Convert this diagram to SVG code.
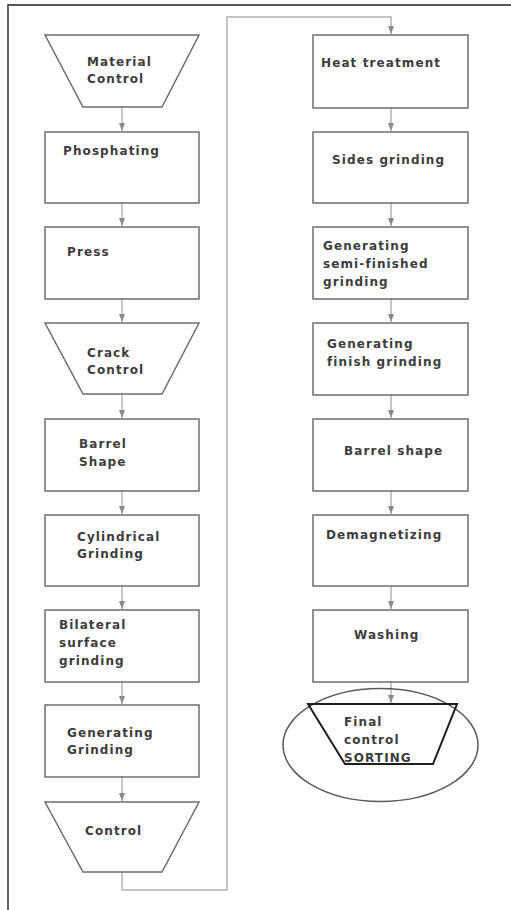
<svg xmlns="http://www.w3.org/2000/svg" width="511" height="910" viewBox="0 0 511 910">
<style>
.box{fill:#fff;stroke:#6e6e6e;stroke-width:1.5}
.t{font-family:"DejaVu Sans",sans-serif;font-weight:bold;font-size:12px;letter-spacing:1.1px;fill:#3c3c3c}
.c{fill:none;stroke:#b4b4b4;stroke-width:1.5}
</style>
<defs>
<marker id="ah" markerWidth="8" markerHeight="6" refX="8" refY="3" orient="auto" markerUnits="userSpaceOnUse">
<path d="M0,0 L8,3 L0,6 Z" fill="#8a8a8a"/>
</marker>
</defs>
<rect width="511" height="910" fill="#fff"/>
<path d="M8,910 V5 H511" fill="none" stroke="#555" stroke-width="1.8"/>
<g id="connectors">
<path class="c" d="M122,107 V131" marker-end="url(#ah)"/>
<path class="c" d="M122,203 V226" marker-end="url(#ah)"/>
<path class="c" d="M122,299 V322" marker-end="url(#ah)"/>
<path class="c" d="M122,394 V418" marker-end="url(#ah)"/>
<path class="c" d="M122,491 V514" marker-end="url(#ah)"/>
<path class="c" d="M122,586 V609" marker-end="url(#ah)"/>
<path class="c" d="M122,682 V704" marker-end="url(#ah)"/>
<path class="c" d="M122,777 V801" marker-end="url(#ah)"/>
<path class="c" d="M122,872 V890 H227 V17 H391 V34" marker-end="url(#ah)"/>
<path class="c" d="M391,108 V131" marker-end="url(#ah)"/>
<path class="c" d="M391,203 V226" marker-end="url(#ah)"/>
<path class="c" d="M391,299 V322" marker-end="url(#ah)"/>
<path class="c" d="M391,395 V418" marker-end="url(#ah)"/>
<path class="c" d="M391,491 V514" marker-end="url(#ah)"/>
<path class="c" d="M391,586 V609" marker-end="url(#ah)"/>
<path class="c" d="M391,682 V703" marker-end="url(#ah)"/>
</g>
<g id="material-control">
<polygon class="box" points="45,35 199,35 162,107 83,107"/>
<text class="t" x="87" y="66">Material</text>
<text class="t" x="87" y="83">Control</text>
</g>
<g id="phosphating">
<rect class="box" x="45" y="132" width="154" height="71"/>
<text class="t" x="63" y="155">Phosphating</text>
</g>
<g id="press">
<rect class="box" x="45" y="227" width="154" height="72"/>
<text class="t" x="67" y="256">Press</text>
</g>
<g id="crack-control">
<polygon class="box" points="45,323 199,323 162,394 83,394"/>
<text class="t" x="87" y="357">Crack</text>
<text class="t" x="87" y="374">Control</text>
</g>
<g id="barrel-shape-1">
<rect class="box" x="45" y="419" width="154" height="72"/>
<text class="t" x="79" y="448">Barrel</text>
<text class="t" x="79" y="466">Shape</text>
</g>
<g id="cylindrical-grinding">
<rect class="box" x="45" y="515" width="154" height="71"/>
<text class="t" x="77" y="541">Cylindrical</text>
<text class="t" x="77" y="558">Grinding</text>
</g>
<g id="bilateral">
<rect class="box" x="45" y="610" width="154" height="72"/>
<text class="t" x="59" y="629">Bilateral</text>
<text class="t" x="59" y="647">surface</text>
<text class="t" x="59" y="665">grinding</text>
</g>
<g id="generating-grinding">
<rect class="box" x="45" y="705" width="154" height="72"/>
<text class="t" x="67" y="737">Generating</text>
<text class="t" x="67" y="754">Grinding</text>
</g>
<g id="control">
<polygon class="box" points="45,802 199,802 162,872 83,872"/>
<text class="t" x="85" y="835">Control</text>
</g>
<g id="heat-treatment">
<rect class="box" x="313" y="35" width="155" height="73"/>
<text class="t" x="321" y="67">Heat treatment</text>
</g>
<g id="sides-grinding">
<rect class="box" x="313" y="132" width="155" height="71"/>
<text class="t" x="332" y="164">Sides grinding</text>
</g>
<g id="semi-finished">
<rect class="box" x="313" y="227" width="155" height="72"/>
<text class="t" x="323" y="250">Generating</text>
<text class="t" x="323" y="268">semi-finished</text>
<text class="t" x="323" y="286">grinding</text>
</g>
<g id="finish-grinding">
<rect class="box" x="313" y="323" width="155" height="72"/>
<text class="t" x="327" y="348">Generating</text>
<text class="t" x="327" y="366">finish grinding</text>
</g>
<g id="barrel-shape-2">
<rect class="box" x="313" y="419" width="155" height="72"/>
<text class="t" x="344" y="455">Barrel shape</text>
</g>
<g id="demagnetizing">
<rect class="box" x="313" y="515" width="155" height="71"/>
<text class="t" x="326" y="539">Demagnetizing</text>
</g>
<g id="washing">
<rect class="box" x="313" y="610" width="155" height="72"/>
<text class="t" x="354" y="639">Washing</text>
</g>
<g id="final-control">
<ellipse cx="380.5" cy="745" rx="97.5" ry="56.5" fill="none" stroke="#5a5a5a" stroke-width="1.5"/>
<polygon points="308,704 457,704 433,764 345,764" fill="none" stroke="#1e1e1e" stroke-width="2"/>
<text class="t" x="344" y="726">Final</text>
<text class="t" x="344" y="744">control</text>
<text class="t" x="344" y="762">SORTING</text>
</g>
</svg>
